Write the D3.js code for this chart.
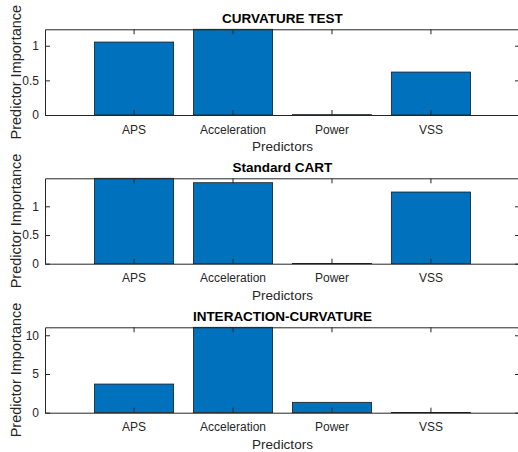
<!DOCTYPE html>
<html>
<head>
<meta charset="utf-8">
<script src="https://cdn.jsdelivr.net/npm/d3@7"></script>
<style>
  body { margin: 0; background: #fff; }
  svg { display: block; font-family: Arial, "Liberation Sans", Helvetica, sans-serif; }
</style>
</head>
<body>
<script>
// data
var predictors = ["APS", "Acceleration", "Power", "VSS"];
var curvatureValues = [1.053, 1.237, 0.005, 0.62];
var cartValues = [1.488, 1.411, 0.005, 1.249];
var interactionValues = [3.70, 11.03, 1.34, 0.02];

var panelTitles = ["CURVATURE TEST", "Standard CART", "INTERACTION-CURVATURE"];
var panelMax = [1.237, 1.488, 11.03];
var curvatureTicks = [0, 0.5, 1];
var cartTicks = [0, 0.5, 1];
var interactionTicks = [0, 5, 10];

var width = 518, height = 452;
var axisColor = "#262626", barColor = "#0072BD";
var left = 45, right = 520, tickLen = 5;

// vertical placement of each axes box (top, bottom)
var boxes = [{ top: 29.3, bottom: 115 }, { top: 178.3, bottom: 263.7 }, { top: 327.3, bottom: 412.7 }];

var svg = d3.select("body").append("svg").attr("width", width).attr("height", height);

var x = d3.scaleBand().domain(predictors).range([left, right]).paddingInner(0.2).paddingOuter(0.5);

function drawPanel(i, values, ticks) {
    var box = boxes[i];
    var y = d3.scaleLinear().domain([0, panelMax[i]]).range([box.bottom, box.top]);
    var g = svg.append("g");

    g.selectAll("rect.bar").data(values).enter().append("rect")
        .attr("class", "bar")
        .attr("x", function(d, j) { return x(predictors[j]); })
        .attr("width", x.bandwidth())
        .attr("y", function(d) { return y(d); })
        .attr("height", function(d) { return y(0) - y(d); })
        .style("fill", barColor).style("stroke", "#1a1a1a").style("stroke-width", 0.8);

    //bottom axis
    var xAxis = d3.axisBottom(x).tickSizeInner(-tickLen).tickSizeOuter(0).tickPadding(10);
    var gx = g.append("g").attr("transform", "translate(0," + box.bottom + ")").call(xAxis);
    //top ticks
    var gxt = g.append("g").attr("transform", "translate(0," + box.top + ")")
        .call(d3.axisTop(x).tickSizeInner(-tickLen).tickSizeOuter(0).tickFormat(""));

    var yAxis = d3.axisLeft(y).tickValues(ticks).tickSizeInner(-tickLen).tickSizeOuter(0).tickPadding(6)
        .tickFormat(d3.format("~g"));
    var gy = g.append("g").attr("transform", "translate(" + left + ",0)").call(yAxis);
    //right ticks, the box edge itself sits just past the window
    var gyr = g.append("g").attr("transform", "translate(" + right + ",0)")
        .call(d3.axisRight(y).tickValues(ticks).tickSizeInner(-tickLen).tickSizeOuter(0).tickFormat(""));

    [gx, gxt, gy, gyr].forEach(function(a) {
        a.select(".domain").style("stroke", axisColor);
        a.selectAll(".tick line").style("stroke", axisColor);
        a.selectAll(".tick text").style("fill", axisColor).style("font-size", "12px")
            .style("font-family", "Arial, 'Liberation Sans', sans-serif");
    });
    gx.selectAll(".tick text").attr("dy", "0.71em");

    g.append("text").text("Predictors")
        .attr("x", (left + right) / 2).attr("y", box.bottom + 36)
        .attr("text-anchor", "middle").style("font-size", "13.5px").style("fill", axisColor);

    g.append("text").text("Predictor Importance")
        .attr("transform", "translate(21," + ((box.top + box.bottom) / 2) + ") rotate(-90)")
        .attr("text-anchor", "middle").style("font-size", "14.5px").style("fill", axisColor);

    g.append("text").text(panelTitles[i])
        .attr("x", (left + right) / 2).attr("y", box.top - 6.5)
        .attr("text-anchor", "middle").style("font-size", "13.5px").style("font-weight", "bold")
        .style("fill", "#000");
}

drawPanel(0, curvatureValues, curvatureTicks);
drawPanel(1, cartValues, cartTicks);
drawPanel(2, interactionValues, interactionTicks);
</script>
</body>
</html>
